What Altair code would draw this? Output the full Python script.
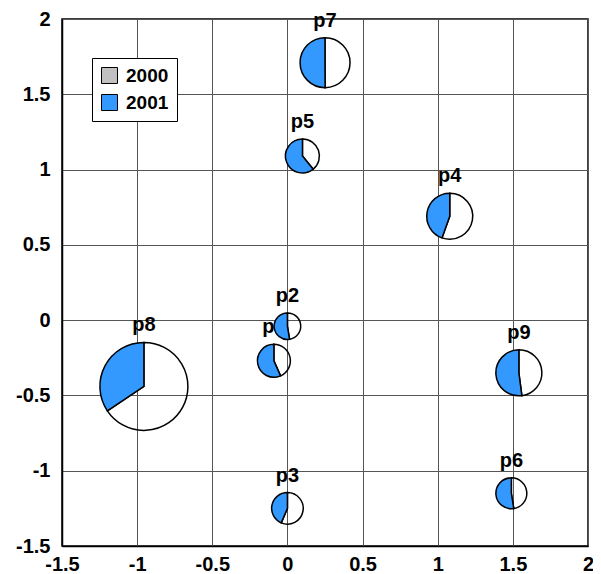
import altair as alt
import pandas as pd

# ---- data ----
names = ["p1", "p2", "p3", "p4", "p5", "p6", "p7", "p8", "p9"]
xs = [-0.09, 0.0, 0.0, 1.08, 0.10, 1.49, 0.25, -0.955, 1.54]
ys = [-0.27, -0.04, -1.25, 0.69, 1.09, -1.15, 1.71, -0.44, -0.35]
v2000 = [1.18, 0.84, 1.41, 2.94, 1.13, 1.14, 3.12, 12.73, 2.54]
v2001 = [1.54, 0.93, 1.09, 2.36, 1.76, 1.26, 3.13, 6.67, 2.76]
years = ["2000", "2001"]
ticks = [-1.5, -1, -0.5, 0, 0.5, 1, 1.5, 2]

wide = pd.DataFrame({"name": names, "x": xs, "y": ys, "v2000": v2000, "v2001": v2001})
rows = []
for n, x, y, a, b in zip(names, xs, ys, v2000, v2001):
    rows.append({"name": n, "x": x, "y": y, "year": "2000", "value": a})
    rows.append({"name": n, "x": x, "y": y, "year": "2001", "value": b})
long_df = pd.DataFrame(rows)

FONT = "Liberation Sans"
xscale = alt.Scale(domain=[ticks[0], ticks[-1]], nice=False, zero=False)
yscale = alt.Scale(domain=[ticks[0], ticks[-1]], nice=False, zero=False)
rscale = alt.Scale(type="sqrt", zero=True, range=[0, 44])
xaxis = alt.Axis(title=None, values=ticks, labelExpr="'' + datum.value", labelPadding=8)
yaxis = alt.Axis(title=None, values=ticks, labelExpr="'' + datum.value", labelPadding=12)

labels = (
    alt.Chart(wide)
    .transform_calculate(total="datum.v2000 + datum.v2001")
    .mark_text(theta=0, dy=-11, baseline="alphabetic", fontSize=20,
               fontWeight="bold", font=FONT, color="black")
    .encode(
        x=alt.X("x:Q", scale=xscale, axis=xaxis),
        y=alt.Y("y:Q", scale=yscale, axis=yaxis),
        radius=alt.Radius("total:Q", scale=rscale),
        text="name:N",
    )
)

arcs = (
    alt.Chart(long_df)
    .transform_joinaggregate(total="sum(value)", groupby=["name"])
    .transform_window(cum="sum(value)", groupby=["name"], sort=[alt.SortField("year")])
    .transform_calculate(
        t0="2*PI*(datum.cum - datum.value)/datum.total",
        t1="2*PI*datum.cum/datum.total",
    )
    .mark_arc(stroke="black", strokeWidth=1.5)
    .encode(
        x=alt.X("x:Q", scale=xscale, axis=xaxis),
        y=alt.Y("y:Q", scale=yscale, axis=yaxis),
        theta=alt.Theta("t0:Q", scale=None, stack=False),
        theta2="t1:Q",
        radius=alt.Radius("total:Q", scale=rscale),
        fill=alt.Fill(
            "year:N",
            scale=alt.Scale(domain=years, range=["#c0c0c0", "#3399ff"]),
            legend=alt.Legend(
                title=None, orient="none", legendX=30, legendY=39,
                fillColor="white", strokeColor="black", padding=8,
                symbolType="square", symbolSize=256, symbolStrokeColor="black",
                symbolStrokeWidth=1, symbolOpacity=1, labelFontSize=19,
                labelFontWeight="bold", labelFont=FONT, labelColor="black",
                rowPadding=6, labelOffset=7, cornerRadius=0,
            ),
        ),
        fillOpacity=alt.condition("datum.year == '2000'", alt.value(0), alt.value(1)),
    )
)

chart = (
    alt.layer(labels, arcs)
    .properties(
        width=526, height=527,
        autosize=alt.AutoSizeParams(type="none"),
        padding={"left": 54, "top": 11, "right": 5, "bottom": 28},
    )
    .configure_view(stroke="black", strokeWidth=1.5)
    .configure_axis(
        grid=True, gridColor="#555555", gridWidth=1, domainColor="black",
        domainWidth=1.5, tickSize=0, labelFontSize=20, labelFontWeight="bold",
        labelFont=FONT, labelColor="black", labelFlush=False, labelOverlap=False,
    )
)

chart.save("out.html", embed_options={"renderer": "svg", "actions": False})
